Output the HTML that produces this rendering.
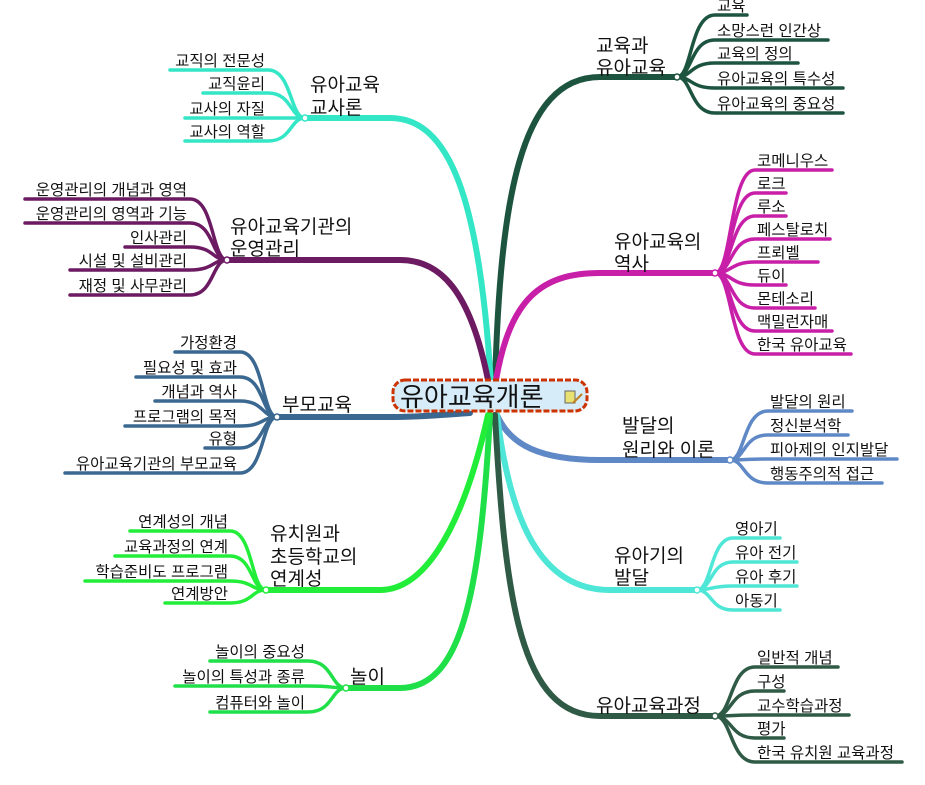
<!DOCTYPE html>
<html><head><meta charset="utf-8"><style>
html,body{margin:0;padding:0;background:#fff}
svg{display:block}
text{font-family:"Liberation Sans","Noto Sans CJK KR","NanumGothic",sans-serif;fill:#111}
.l{font-size:15.5px}
.m{font-size:19px}
</style></head><body>
<svg width="925" height="785" viewBox="0 0 925 785" xmlns="http://www.w3.org/2000/svg">
<g fill="none" stroke-linecap="round">
<path d="M495,385 C500,200 520,77 600,77 L677,77" stroke="#1d5440" stroke-width="6"/>
<path d="M491,385 C480,200 450,118 390,118 L305,118" stroke="#33e6c6" stroke-width="6"/>
<path d="M488,380 C470,290 440,260 400,260 L227,260" stroke="#6c1a62" stroke-width="6"/>
<path d="M496,380 C510,300 540,273 600,273 L715,273" stroke="#c81fa8" stroke-width="6"/>
<path d="M470,413 C440,415 420,417 390,417 L277,417" stroke="#3b6891" stroke-width="6"/>
<path d="M497,415 C510,445 540,460 600,460 L730,460" stroke="#5f88c6" stroke-width="6"/>
<path d="M497,415 C510,520 540,590 610,590 L697,590" stroke="#4ee6d6" stroke-width="6"/>
<path d="M495,415 C505,600 520,716 600,716 L715,716" stroke="#2f5a45" stroke-width="6"/>
<path d="M490,415 C480,600 460,688 400,688 L346,688" stroke="#1fe048" stroke-width="6"/>
<path d="M488,415 C460,540 420,590 380,590 L266,590" stroke="#22ee3a" stroke-width="6"/>

<g stroke="#1d5440" stroke-width="3.5">
<path d="M677,77 C692,77 690,15 715,15 L747,15"/>
<path d="M677,77 C692,77 690,40 715,40 L828,40"/>
<path d="M677,77 C692,77 690,63 715,63 L798,63"/>
<path d="M677,77 C692,77 690,88 715,88 L843,88"/>
<path d="M677,77 C692,77 690,113 715,113 L843,113"/>
</g>
<g stroke="#c81fa8" stroke-width="3.5">
<path d="M715,273 C732,273 730,170 755,170 L832,170"/>
<path d="M715,273 C732,273 730,193 755,193 L786,193"/>
<path d="M715,273 C732,273 730,216 755,216 L786,216"/>
<path d="M715,273 C732,273 730,239 755,239 L830,239"/>
<path d="M715,273 C732,273 730,262 755,262 L818,262"/>
<path d="M715,273 C732,273 730,285 755,285 L786,285"/>
<path d="M715,273 C732,273 730,308 755,308 L815,308"/>
<path d="M715,273 C732,273 730,331 755,331 L832,331"/>
<path d="M715,273 C732,273 730,354 755,354 L851,354"/>
</g>
<g stroke="#5f88c6" stroke-width="3.5">
<path d="M730,460 C745,460 743,411 768,411 L852,411"/>
<path d="M730,460 C745,460 743,435 768,435 L848,435"/>
<path d="M730,460 C745,460 743,459 768,459 L897,459"/>
<path d="M730,460 C745,460 743,483 768,483 L882,483"/>
</g>
<g stroke="#4ee6d6" stroke-width="3.5">
<path d="M697,590 C712,590 710,538 733,538 L780,538"/>
<path d="M697,590 C712,590 710,562 733,562 L797,562"/>
<path d="M697,590 C712,590 710,586 733,586 L797,586"/>
<path d="M697,590 C712,590 710,610 733,610 L780,610"/>
</g>
<g stroke="#2f5a45" stroke-width="3.5">
<path d="M715,716 C732,716 730,667 755,667 L838,667"/>
<path d="M715,716 C732,716 730,691 755,691 L784,691"/>
<path d="M715,716 C732,716 730,715 755,715 L849,715"/>
<path d="M715,716 C732,716 730,738 755,738 L784,738"/>
<path d="M715,716 C732,716 730,762 755,762 L902,762"/>
</g>
<g stroke="#33e6c6" stroke-width="3.5">
<path d="M305,118 C290,118 292,70 268,70 L170,70"/>
<path d="M305,118 C290,118 292,93 268,93 L203,93"/>
<path d="M305,118 L185,118"/>
<path d="M305,118 C290,118 292,141 268,141 L185,141"/>
</g>
<g stroke="#6c1a62" stroke-width="3.5">
<path d="M227,260 C212,260 214,199 190,199 L25,199"/>
<path d="M227,260 C212,260 214,223 190,223 L25,223"/>
<path d="M227,260 C212,260 214,247 190,247 L125,247"/>
<path d="M227,260 C212,260 214,270 190,270 L70,270"/>
<path d="M227,260 C212,260 214,295 190,295 L70,295"/>
</g>
<g stroke="#3b6891" stroke-width="3.5">
<path d="M277,417 C262,417 264,352 240,352 L175,352"/>
<path d="M277,417 C262,417 264,377 240,377 L136,377"/>
<path d="M277,417 C262,417 264,401 240,401 L155,401"/>
<path d="M277,417 C262,417 264,426 240,426 L125,426"/>
<path d="M277,417 C262,417 264,448 240,448 L205,448"/>
<path d="M277,417 C262,417 264,473 240,473 L65,473"/>
</g>
<g stroke="#22ee3a" stroke-width="3.5">
<path d="M266,590 C251,590 253,531 230,531 L130,531"/>
<path d="M266,590 C251,590 253,556 230,556 L115,556"/>
<path d="M266,590 C251,590 253,581 230,581 L85,581"/>
<path d="M266,590 C251,590 253,603 230,603 L165,603"/>
</g>
<g stroke="#1fe048" stroke-width="3.5">
<path d="M346,688 C331,688 333,661 308,661 L210,661"/>
<path d="M346,688 C331,688 333,686 308,686 L175,686"/>
<path d="M346,688 C331,688 333,712 308,712 L210,712"/>
</g>
</g>
<g fill="#fff" stroke-width="1.5">
<circle cx="677" cy="77" r="3" stroke="#1d5440"/>
<circle cx="715" cy="273" r="3" stroke="#c81fa8"/>
<circle cx="730" cy="460" r="3" stroke="#5f88c6"/>
<circle cx="697" cy="590" r="3" stroke="#4ee6d6"/>
<circle cx="715" cy="716" r="3" stroke="#2f5a45"/>
<circle cx="305" cy="118" r="3" stroke="#33e6c6"/>
<circle cx="227" cy="260" r="3" stroke="#6c1a62"/>
<circle cx="277" cy="417" r="3" stroke="#3b6891"/>
<circle cx="266" cy="590" r="3" stroke="#22ee3a"/>
<circle cx="346" cy="688" r="3" stroke="#1fe048"/>
</g>
<g class="m">
<text x="596" y="52">교육과</text><text x="596" y="74">유아교육</text>
<text x="614" y="248">유아교육의</text><text x="614" y="270">역사</text>
<text x="622" y="432">발달의</text><text x="622" y="456">원리와 이론</text>
<text x="614" y="562">유아기의</text><text x="614" y="584">발달</text>
<text x="596" y="712">유아교육과정</text>
<text x="310" y="91">유아교육</text><text x="310" y="114">교사론</text>
<text x="230" y="233">유아교육기관의</text><text x="230" y="255">운영관리</text>
<text x="282" y="411">부모교육</text>
<text x="270" y="540">유치원과</text><text x="270" y="563">초등학교의</text><text x="270" y="585">연계성</text>
<text x="350" y="683">놀이</text>
</g>
<g class="l">
<text x="717" y="11">교육</text><text x="717" y="36">소망스런 인간상</text><text x="717" y="59">교육의 정의</text><text x="717" y="84">유아교육의 특수성</text><text x="717" y="109">유아교육의 중요성</text>
<text x="757" y="166">코메니우스</text><text x="757" y="189">로크</text><text x="757" y="212">루소</text><text x="757" y="235">페스탈로치</text><text x="757" y="258">프뢰벨</text><text x="757" y="281">듀이</text><text x="757" y="304">몬테소리</text><text x="757" y="327">맥밀런자매</text><text x="757" y="350">한국 유아교육</text>
<text x="770" y="407">발달의 원리</text><text x="770" y="431">정신분석학</text><text x="770" y="455">피아제의 인지발달</text><text x="770" y="479">행동주의적 접근</text>
<text x="735" y="534">영아기</text><text x="735" y="558">유아 전기</text><text x="735" y="582">유아 후기</text><text x="735" y="606">아동기</text>
<text x="757" y="663">일반적 개념</text><text x="757" y="687">구성</text><text x="757" y="711">교수학습과정</text><text x="757" y="734">평가</text><text x="757" y="758">한국 유치원 교육과정</text>
</g>
<g class="l" text-anchor="end">
<text x="265" y="66">교직의 전문성</text><text x="265" y="89">교직윤리</text><text x="265" y="114">교사의 자질</text><text x="265" y="137">교사의 역할</text>
<text x="187" y="195">운영관리의 개념과 영역</text><text x="187" y="219">운영관리의 영역과 기능</text><text x="187" y="243">인사관리</text><text x="187" y="266">시설 및 설비관리</text><text x="187" y="291">재정 및 사무관리</text>
<text x="237" y="348">가정환경</text><text x="237" y="373">필요성 및 효과</text><text x="237" y="397">개념과 역사</text><text x="237" y="422">프로그램의 목적</text><text x="237" y="444">유형</text><text x="237" y="469">유아교육기관의 부모교육</text>
<text x="228" y="527">연계성의 개념</text><text x="228" y="552">교육과정의 연계</text><text x="228" y="577">학습준비도 프로그램</text><text x="228" y="599">연계방안</text>
<text x="305" y="657">놀이의 중요성</text><text x="305" y="682">놀이의 특성과 종류</text><text x="305" y="708">컴퓨터와 놀이</text>
</g>
<rect x="393" y="380" width="194" height="31" rx="12" fill="#d6ecf8" stroke="#cc3300" stroke-width="3" stroke-dasharray="6 2"/>
<text x="400" y="406" style="font-size:26px">유아교육개론</text>
<rect x="565" y="391" width="10" height="12" fill="#e8e070" stroke="#666" stroke-width="1"/>
<path d="M573,403 L582,394" stroke="#c08020" stroke-width="2"/>
</svg>
</body></html>
